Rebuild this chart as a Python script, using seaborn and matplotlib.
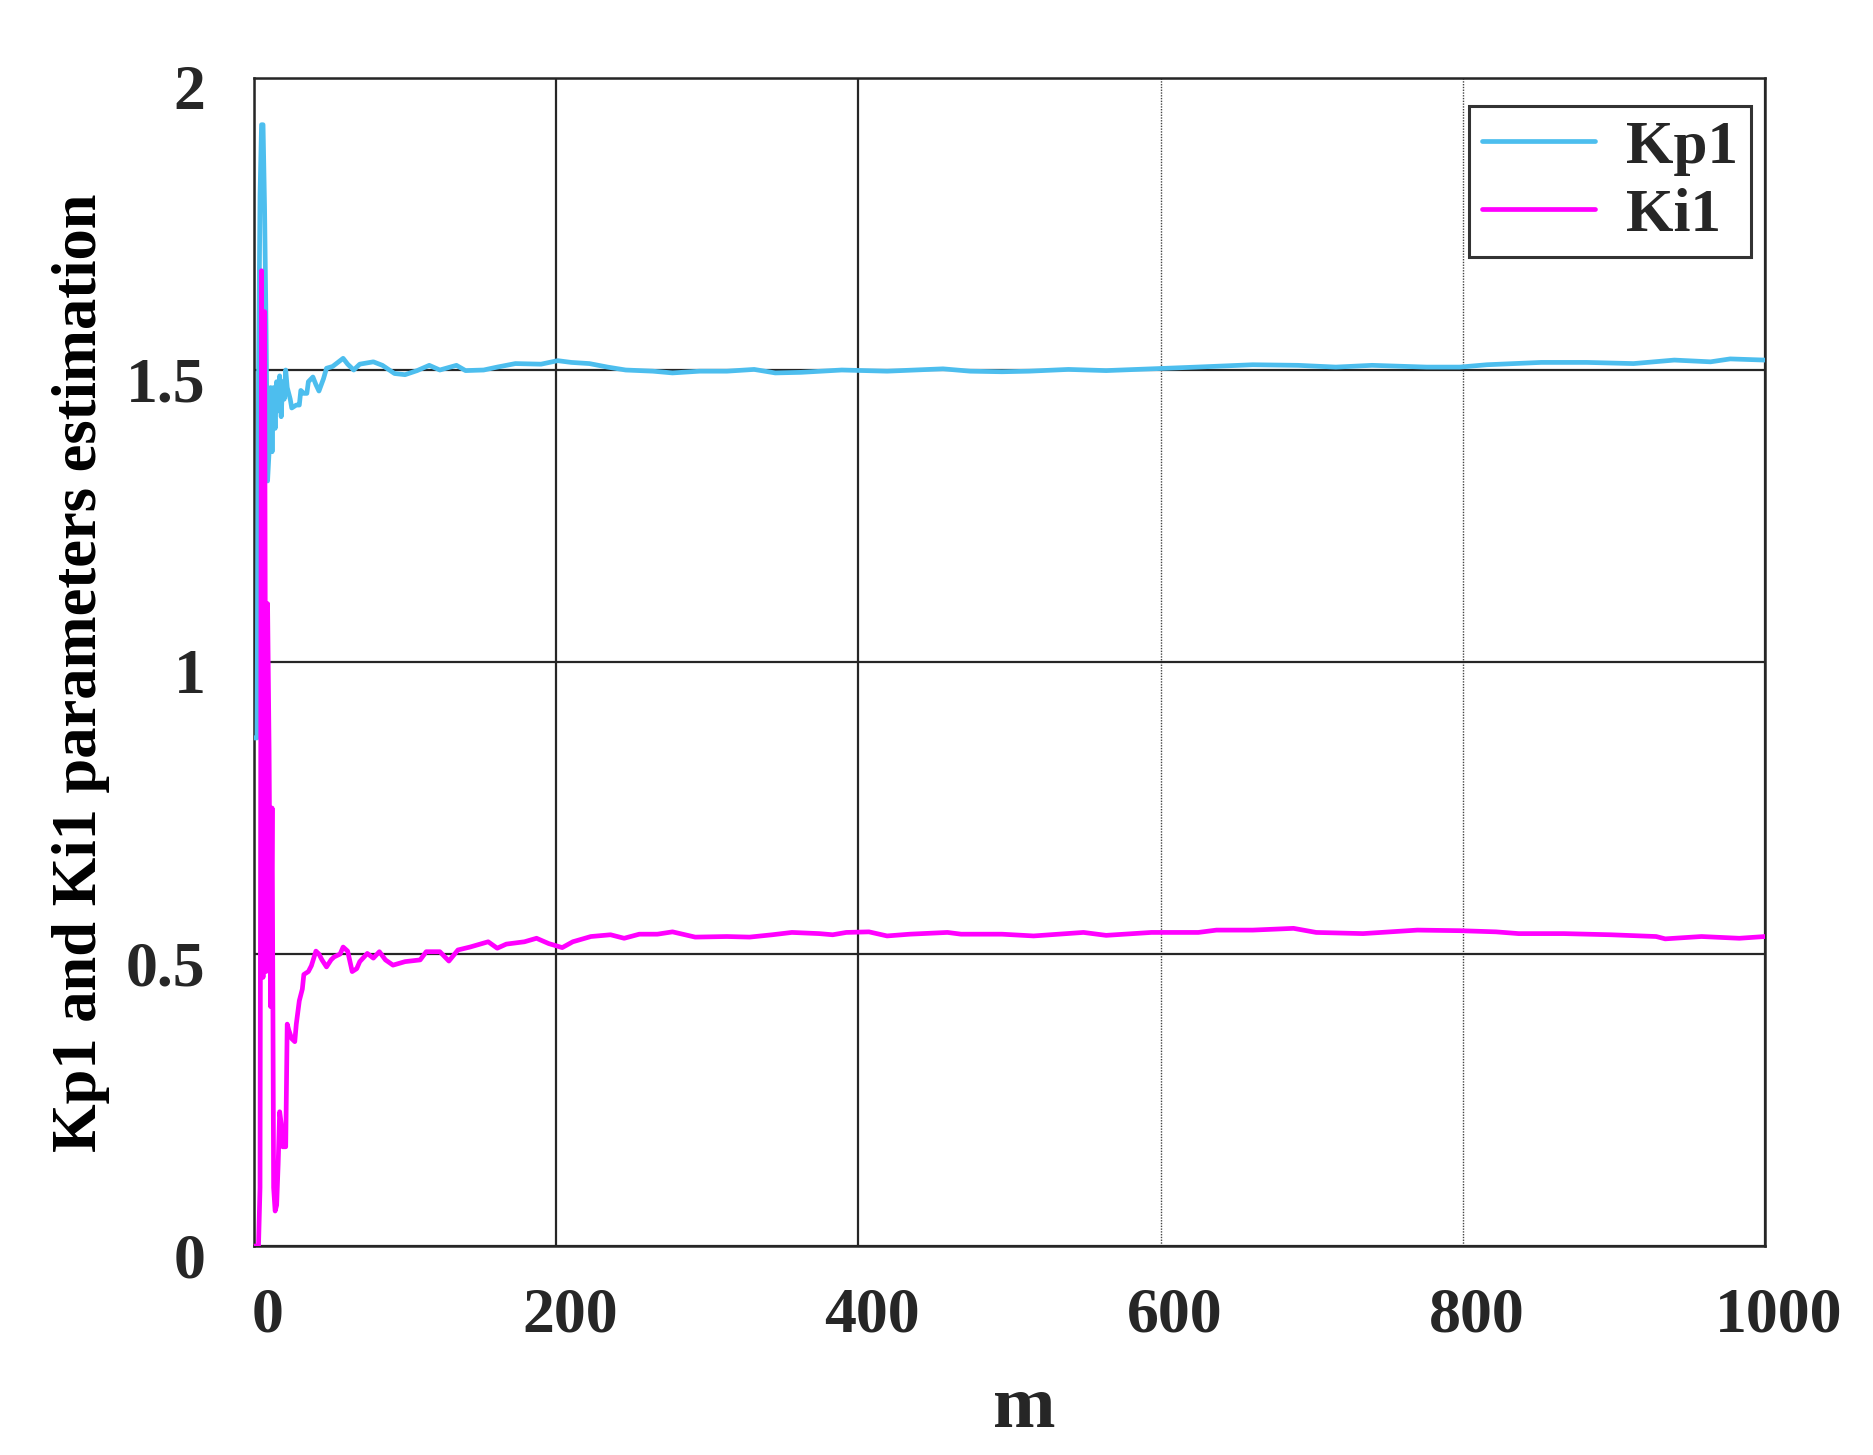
import numpy as np
import pandas as pd
from matplotlib import pyplot as plt
import matplotlib.transforms as mtrans
import seaborn as sb

sb.set_style('white')
plt.rcParams['font.family'] = ['Liberation Serif', 'DejaVu Serif']
plt.rcParams['font.weight'] = 'bold'

# values
kp1_m = [0, 2, 3, 4, 5, 6, 7, 8, 9, 10, 11, 12, 13, 14, 15, 16, 17, 18, 19, 20,
         21, 22, 24, 25, 28, 30, 31, 33, 35, 36, 39, 41, 43, 46, 48, 52, 55, 59,
         62, 66, 70, 79, 85, 93, 100, 108, 116, 123, 134, 140, 152, 161, 173,
         190, 201, 210, 222, 234, 246, 264, 277, 295, 313, 331, 345, 362, 389,
         419, 456, 474, 495, 513, 539, 564, 594, 624, 661, 691, 716, 740, 776,
         798, 816, 852, 882, 913, 940, 964, 977, 1000]
kp1_val = [0.87, 0.87, 1.49, 1.80, 1.92, 1.92, 1.78, 1.57, 1.31, 1.36, 1.47, 1.36,
           1.47, 1.40, 1.48, 1.43, 1.49, 1.42, 1.48, 1.45, 1.50, 1.47, 1.45, 1.435,
           1.44, 1.44, 1.465, 1.46, 1.46, 1.48, 1.488, 1.475, 1.464, 1.485, 1.503,
           1.506, 1.512, 1.520, 1.51, 1.50, 1.51, 1.514, 1.508, 1.494, 1.492, 1.499,
           1.508, 1.50, 1.508, 1.499, 1.50, 1.505, 1.511, 1.51, 1.516, 1.513, 1.511,
           1.505, 1.50, 1.498, 1.495, 1.498, 1.498, 1.501, 1.495, 1.496, 1.50, 1.498,
           1.502, 1.498, 1.497, 1.498, 1.501, 1.499, 1.502, 1.505, 1.509, 1.508,
           1.505, 1.508, 1.505, 1.505, 1.509, 1.513, 1.513, 1.511, 1.517, 1.514,
           1.519, 1.517]

ki1_m = [0, 3, 4, 5, 6, 7, 8, 9, 10, 11, 12, 13, 14, 15, 16, 17, 18, 19, 21, 22,
         23, 25, 27, 28, 30, 32, 33, 36, 38, 41, 43, 45, 48, 51, 53, 57, 59, 62,
         65, 68, 70, 75, 79, 83, 87, 92, 100, 110, 114, 123, 129, 135, 143, 155,
         161, 167, 179, 187, 195, 204, 211, 223, 236, 245, 255, 267, 277, 292,
         313, 328, 343, 356, 374, 383, 392, 407, 419, 434, 459, 468, 495, 516,
         538, 549, 564, 594, 625, 637, 661, 688, 703, 734, 770, 798, 822, 837,
         867, 898, 928, 934, 958, 983, 1000]
ki1_val = [0.0, 0.0, 0.10, 1.67, 0.46, 1.60, 0.47, 1.10, 0.85, 0.41, 0.75, 0.10,
           0.06, 0.07, 0.14, 0.23, 0.21, 0.17, 0.17, 0.38, 0.37, 0.355, 0.35, 0.38,
           0.42, 0.44, 0.465, 0.47, 0.48, 0.505, 0.50, 0.49, 0.478, 0.49, 0.495,
           0.50, 0.512, 0.505, 0.47, 0.475, 0.487, 0.501, 0.493, 0.504, 0.49, 0.481,
           0.487, 0.49, 0.504, 0.504, 0.488, 0.507, 0.512, 0.521, 0.510, 0.517,
           0.521, 0.527, 0.518, 0.511, 0.521, 0.53, 0.533, 0.527, 0.534, 0.534,
           0.538, 0.529, 0.53, 0.529, 0.533, 0.537, 0.535, 0.533, 0.537, 0.538,
           0.531, 0.534, 0.537, 0.534, 0.534, 0.531, 0.535, 0.537, 0.532, 0.537,
           0.537, 0.541, 0.541, 0.544, 0.537, 0.535, 0.541, 0.540, 0.538, 0.535,
           0.535, 0.533, 0.53, 0.526, 0.53, 0.527, 0.53]

x_ticks = [0, 200, 400, 600, 800, 1000]
y_ticks = [0, 0.5, 1, 1.5, 2]
y_tick_labels = ['0', '0.5', '1', '1.5', '2']

kp1 = pd.DataFrame({'m': kp1_m, 'value': kp1_val})
ki1 = pd.DataFrame({'m': ki1_m, 'value': ki1_val})

dark = '#262626'
fig = plt.figure(figsize=(18.73, 14.55), dpi=100)
ax = fig.add_axes([0.1356, 0.1436, 0.9423 - 0.1356, 0.9464 - 0.1436])

sb.lineplot(x='m', y='value', data=kp1, ax=ax, color='#4DBEEE', lw=3.4,
            label='Kp1', estimator=None, zorder=3)
sb.lineplot(x='m', y='value', data=ki1, ax=ax, color='#FF00FF', lw=3.4,
            label='Ki1', estimator=None, zorder=3)

ax.set_xlim(0, 1000)
ax.set_ylim(0, 2)
ax.set_xticks(x_ticks)
ax.set_xticklabels([str(t) for t in x_ticks])
ax.set_yticks(y_ticks)
ax.set_yticklabels(y_tick_labels)
ax.tick_params(axis='both', length=0, labelsize=46, labelcolor=dark)
ax.tick_params(axis='x', pad=30)
ax.tick_params(axis='y', pad=35)

ax.grid(True, color=dark, lw=1.6)
ax.set_axisbelow(True)
for t in ax.xaxis.get_major_ticks()[3:5]:
    t.gridline.set_linestyle((0, (1, 1)))
    t.gridline.set_linewidth(1.0)
    t.gridline.set_color('#444444')

for s in ax.spines.values():
    s.set_linewidth(1.8)
    s.set_color(dark)

# matlab-ish label offset
dx = mtrans.ScaledTranslation(0.14, 0, fig.dpi_scale_trans)
dy = mtrans.ScaledTranslation(0, -0.09, fig.dpi_scale_trans)
for lab in ax.get_xticklabels():
    lab.set_transform(lab.get_transform() + dx)
for lab in ax.get_yticklabels():
    lab.set_transform(lab.get_transform() + dy)

ax.set_xlabel('m', fontsize=54, fontweight='bold', color=dark)
ax.set_ylabel('Kp1 and Ki1 parameters estimation', fontsize=45,
              fontweight='bold', color='black')
ax.xaxis.set_label_coords(0.5096, -0.11)
ax.yaxis.set_label_coords(-0.0953, 0.491)

leg = ax.legend(loc='upper right', bbox_to_anchor=(0.9349, 0.9271),
                bbox_transform=fig.transFigure, borderaxespad=0,
                fontsize=44, frameon=True, fancybox=False, borderpad=0.22,
                handlelength=1.85, handletextpad=0.5, labelspacing=0.2)
leg.get_frame().set_edgecolor('black')
leg.get_frame().set_linewidth(2.2)
for txt in leg.get_texts():
    txt.set_fontweight('bold')

plt.savefig('out.png', dpi=100)
